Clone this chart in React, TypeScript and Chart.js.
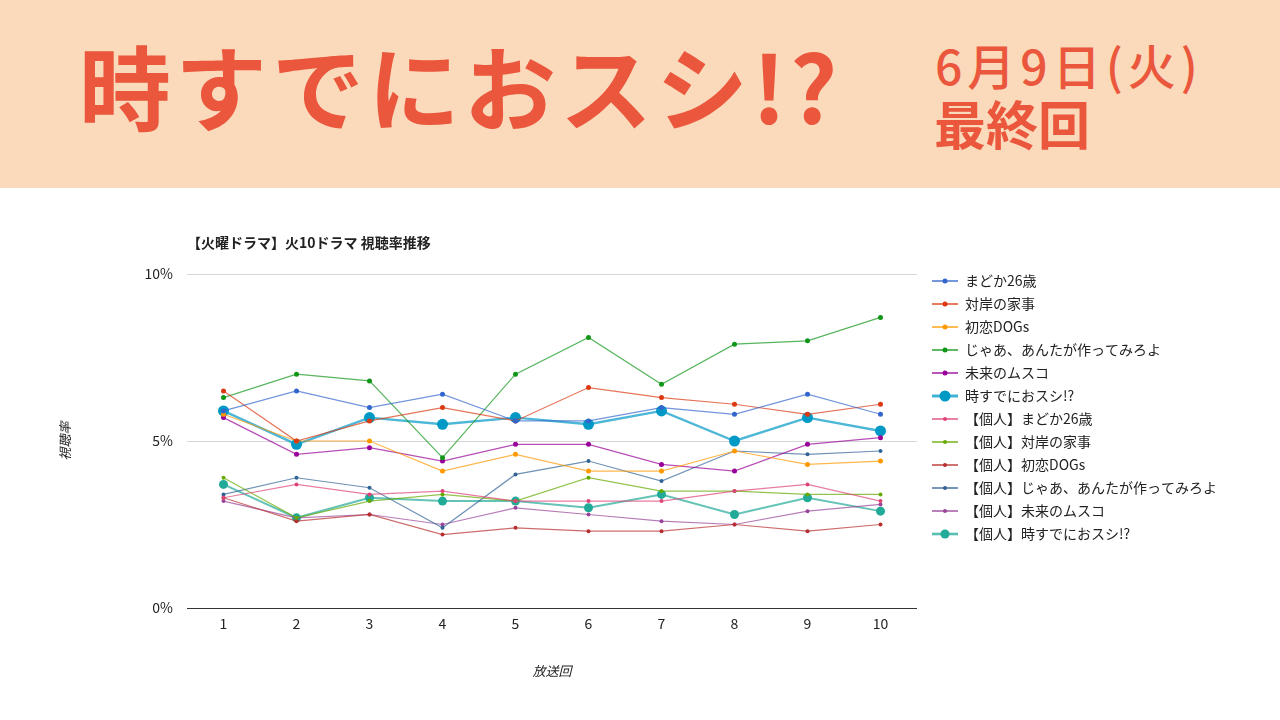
import React, { useEffect, useRef } from 'react';
import { Chart, registerables } from 'chart.js';

Chart.register(...registerables);

// ---- data ----
const episodes = ['1', '2', '3', '4', '5', '6', '7', '8', '9', '10'];
const seriesNames = [
  'まどか26歳',
  '対岸の家事',
  '初恋DOGs',
  'じゃあ、あんたが作ってみろよ',
  '未来のムスコ',
  '時すでにおスシ!?',
  '【個人】まどか26歳',
  '【個人】対岸の家事',
  '【個人】初恋DOGs',
  '【個人】じゃあ、あんたが作ってみろよ',
  '【個人】未来のムスコ',
  '【個人】時すでにおスシ!?',
];
const madoka = [5.9, 6.5, 6.0, 6.4, 5.6, 5.6, 6.0, 5.8, 6.4, 5.8];
const taigan = [6.5, 5.0, 5.6, 6.0, 5.6, 6.6, 6.3, 6.1, 5.8, 6.1];
const hatsukoi = [5.8, 5.0, 5.0, 4.1, 4.6, 4.1, 4.1, 4.7, 4.3, 4.4];
const jaa = [6.3, 7.0, 6.8, 4.5, 7.0, 8.1, 6.7, 7.9, 8.0, 8.7];
const mirai = [5.7, 4.6, 4.8, 4.4, 4.9, 4.9, 4.3, 4.1, 4.9, 5.1];
const sushi = [5.9, 4.9, 5.7, 5.5, 5.7, 5.5, 5.9, 5.0, 5.7, 5.3];
const pMadoka = [3.3, 3.7, 3.4, 3.5, 3.2, 3.2, 3.2, 3.5, 3.7, 3.2];
const pTaigan = [3.9, 2.7, 3.2, 3.4, 3.2, 3.9, 3.5, 3.5, 3.4, 3.4];
const pHatsukoi = [3.3, 2.6, 2.8, 2.2, 2.4, 2.3, 2.3, 2.5, 2.3, 2.5];
const pJaa = [3.4, 3.9, 3.6, 2.4, 4.0, 4.4, 3.8, 4.7, 4.6, 4.7];
const pMirai = [3.2, 2.7, 2.8, 2.5, 3.0, 2.8, 2.6, 2.5, 2.9, 3.1];
const pSushi = [3.7, 2.7, 3.3, 3.2, 3.2, 3.0, 3.4, 2.8, 3.3, 2.9];
const yTicks = [0, 5, 10];

const seriesValues = [madoka, taigan, hatsukoi, jaa, mirai, sushi, pMadoka, pTaigan, pHatsukoi, pJaa, pMirai, pSushi];
const seriesColors = [
  '#3366cc', '#dc3912', '#ff9900', '#109618', '#990099', '#0099c6',
  '#dd4477', '#66aa00', '#b82e2e', '#316395', '#994499', '#22aa99',
];
const lineWidths = [1.2, 1.2, 1.2, 1.2, 1.2, 2.4, 1.2, 1.2, 1.2, 1.2, 1.2, 2];
const pointRadii = [2.5, 2.5, 2.5, 2.5, 2.5, 5.5, 2, 2, 2, 2, 2, 4.5];

const FONT = '"Noto Sans CJK JP", "Noto Sans", sans-serif';

function withAlpha(hex: string, a: number) {
  const n = parseInt(hex.slice(1), 16);
  return `rgba(${(n >> 16) & 255},${(n >> 8) & 255},${n & 255},${a})`;
}

function makeIcon(color: string, lw: number, r: number) {
  const c = document.createElement('canvas');
  c.width = 32;
  c.height = 14;
  const ctx = c.getContext('2d')!;
  ctx.strokeStyle = withAlpha(color, 0.75);
  ctx.lineWidth = lw + 0.6;
  ctx.beginPath();
  ctx.moveTo(6, 7);
  ctx.lineTo(32, 7);
  ctx.stroke();
  ctx.fillStyle = color;
  ctx.beginPath();
  ctx.arc(19, 7, r, 0, Math.PI * 2);
  ctx.fill();
  return c;
}

export default function App() {
  const ref = useRef<HTMLCanvasElement | null>(null);

  useEffect(() => {
    if (!ref.current) return;
    const icons = seriesColors.map((c, i) => makeIcon(c, lineWidths[i], pointRadii[i]));
    const chart = new Chart(ref.current, {
      type: 'line',
      data: {
        labels: episodes,
        datasets: seriesNames.map((name, i) => ({
          label: name,
          data: seriesValues[i],
          borderColor: withAlpha(seriesColors[i], 0.7),
          backgroundColor: seriesColors[i],
          pointBackgroundColor: seriesColors[i],
          pointBorderColor: seriesColors[i],
          pointBorderWidth: 0,
          borderWidth: lineWidths[i],
          pointRadius: pointRadii[i],
          tension: 0,
          fill: false,
        })),
      },
      options: {
        responsive: false,
        animation: false,
        devicePixelRatio: 1,
        layout: { padding: { top: 0, left: 0, right: 58, bottom: 0 } },
        font: { family: FONT },
        plugins: {
          tooltip: { enabled: false },
          title: {
            display: true,
            text: '【火曜ドラマ】火10ドラマ 視聴率推移',
            align: 'start',
            fullSize: false,
            color: '#222222',
            font: { family: FONT, size: 14, weight: 'bold' },
            padding: { top: 46.6, bottom: 22.6 },
          },
          legend: {
            display: true,
            position: 'right',
            align: 'start',
            fullSize: true,
            maxWidth: 305,
            title: { display: true, text: '', font: { size: 12 }, padding: { top: 62.6, bottom: 0 } },
            labels: {
              usePointStyle: true,
              pointStyleWidth: 32,
              padding: 9,
              color: '#222222',
              font: { family: FONT, size: 14 },
              generateLabels: (ch: any) =>
                ch.data.datasets.map((ds: any, i: number) => ({
                  text: ds.label,
                  fillStyle: seriesColors[i],
                  strokeStyle: seriesColors[i],
                  lineWidth: 0,
                  pointStyle: icons[i],
                  hidden: false,
                  datasetIndex: i,
                  fontColor: '#222222',
                })),
            },
          },
        },
        scales: {
          x: {
            type: 'category',
            offset: true,
            grid: { display: false, drawTicks: false },
            border: { display: false },
            ticks: { color: '#222222', padding: 7, font: { family: FONT, size: 14 } },
            title: {
              display: true,
              text: '放送回',
              color: '#222222',
              font: { family: FONT, size: 13, style: 'italic' },
              padding: { top: 0, bottom: 41.2 },
            },
            afterFit: (s: any) => {
              s.height = 112;
            },
          },
          y: {
            min: 0,
            max: 10,
            afterBuildTicks: (s: any) => {
              s.ticks = yTicks.map((v) => ({ value: v }));
            },
            grid: {
              drawTicks: false,
              color: (c: any) => (c.tick && c.tick.value === 0 ? '#333333' : '#d6d6d6'),
              lineWidth: 1,
            },
            border: { display: false },
            ticks: {
              color: '#222222',
              padding: 14,
              font: { family: FONT, size: 14 },
              callback: (v: any) => `${v}%`,
            },
            title: {
              display: true,
              text: '視聴率',
              color: '#222222',
              font: { family: FONT, size: 13, style: 'italic' },
              padding: { top: 57.2, bottom: 0 },
            },
            afterFit: (s: any) => {
              s.width = 187;
            },
          },
        },
      } as any,
    });
    return () => chart.destroy();
  }, []);

  const red = '#ea573d';
  return (
    <div style={{ position: 'absolute', left: 0, top: 0, width: 1280, height: 720, background: '#ffffff', overflow: 'hidden' }}>
      <div style={{ position: 'absolute', left: 0, top: 0, width: 1280, height: 188, background: '#fbd9bb' }}>
        <div
          style={{
            position: 'absolute',
            left: 79,
            top: 38,
            fontFamily: FONT,
            fontWeight: 700,
            fontSize: 92,
            lineHeight: 1,
            letterSpacing: 4,
            color: red,
            whiteSpace: 'nowrap',
          }}
        >
          時すでにおスシ!?
        </div>
        <div
          style={{
            position: 'absolute',
            left: 935,
            top: 40,
            fontFamily: FONT,
            fontWeight: 500,
            fontSize: 48,
            lineHeight: 1,
            letterSpacing: 5,
            color: red,
            whiteSpace: 'nowrap',
          }}
        >
          6月9日(火)
        </div>
        <div
          style={{
            position: 'absolute',
            left: 934,
            top: 97,
            fontFamily: FONT,
            fontWeight: 700,
            fontSize: 52,
            lineHeight: 1,
            color: red,
            whiteSpace: 'nowrap',
          }}
        >
          最終回
        </div>
      </div>
      <div style={{ position: 'absolute', left: 0, top: 188, width: 1280, height: 532 }}>
        <canvas ref={ref} width={1280} height={532} style={{ display: 'block' }} />
      </div>
    </div>
  );
}
